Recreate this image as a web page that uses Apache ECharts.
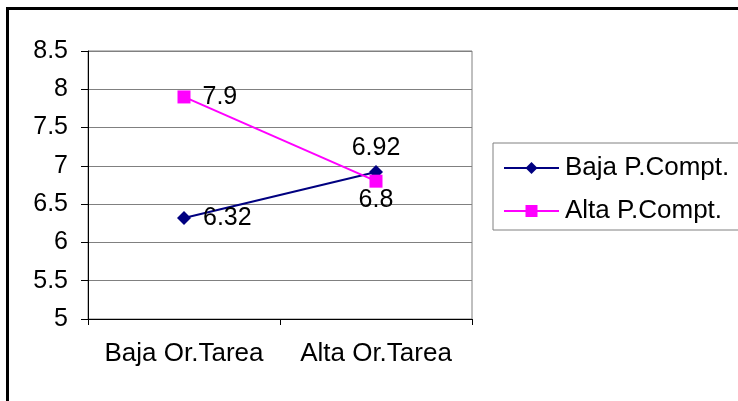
<!DOCTYPE html>
<html>
<head>
<meta charset="utf-8">
<script src="https://cdn.jsdelivr.net/npm/echarts@6/dist/echarts.min.js"></script>
<style>
html,body{margin:0;padding:0;background:#fff;overflow:hidden;width:738px;height:401px;}
#chart{width:780px;height:420px;}
</style>
</head>
<body>
<div id="chart"></div>
<script>
var categories = ['Baja Or.Tarea', 'Alta Or.Tarea'];
var seriesNames = ['Baja P.Compt.', 'Alta P.Compt.'];
var bajaValues = [6.32, 6.92];
var altaValues = [7.9, 6.8];
var yMin = 5, yMax = 8.5, yStep = 0.5;

var FONT = '"Liberation Sans", Arial, sans-serif';
var chart = echarts.init(document.getElementById('chart'), null, {renderer: 'canvas'});

chart.setOption({
  animation: false,
  backgroundColor: '#fff',
  textStyle: {fontFamily: FONT},
  graphic: [{
    type: 'polyline',
    shape: {points: [[7.5, 420], [7.5, 8.5], [780, 8.5]]},
    style: {fill: null, stroke: '#000', lineWidth: 3},
    silent: true
  }],
  grid: {
    left: 88, top: 51, width: 384, height: 268,
    show: true, borderColor: '#808080', borderWidth: 1, backgroundColor: 'transparent'
  },
  legend: {
    orient: 'vertical',
    left: 493, top: 143,
    padding: [12, 22, 6, 10],
    itemGap: 17,
    itemWidth: 55, itemHeight: 15,
    borderColor: '#808080', borderWidth: 1,
    textStyle: {fontFamily: FONT, fontSize: 26, color: '#000', padding: [0, 0, 0, 1]},
    data: seriesNames
  },
  xAxis: {
    type: 'category',
    data: categories,
    boundaryGap: true,
    axisLine: {lineStyle: {color: '#000', width: 1}},
    axisTick: {show: true, length: 6, lineStyle: {color: '#000'}},
    axisLabel: {fontFamily: FONT, fontSize: 26, color: '#000', margin: 22, interval: 0},
    splitLine: {show: false}
  },
  yAxis: {
    type: 'value',
    min: yMin, max: yMax, interval: yStep,
    axisLine: {show: true, lineStyle: {color: '#000', width: 1}},
    axisTick: {show: true, length: 7, lineStyle: {color: '#000'}},
    axisLabel: {fontFamily: FONT, fontSize: 25, color: '#000', margin: 20},
    splitLine: {show: true, lineStyle: {color: '#808080', width: 1}}
  },
  series: [{
    name: seriesNames[0],
    type: 'line',
    data: [
      {value: bajaValues[0], label: {position: 'right', distance: 12}},
      {value: bajaValues[1], label: {position: 'top', distance: 4}}
    ],
    symbol: 'diamond',
    symbolSize: 14,
    lineStyle: {color: '#000080', width: 2},
    itemStyle: {color: '#000080'},
    label: {show: true, fontFamily: FONT, fontSize: 25, color: '#000'}
  }, {
    name: seriesNames[1],
    type: 'line',
    data: [
      {value: altaValues[0], label: {position: 'right', distance: 12}},
      {value: altaValues[1], label: {position: 'bottom', distance: 0}}
    ],
    symbol: 'rect',
    symbolSize: 13,
    lineStyle: {color: '#FF00FF', width: 2},
    itemStyle: {color: '#FF00FF'},
    label: {show: true, fontFamily: FONT, fontSize: 25, color: '#000'}
  }]
});
</script>
</body>
</html>
